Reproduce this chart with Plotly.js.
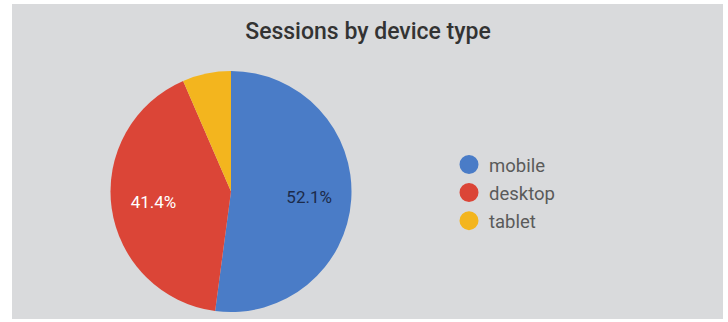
<!DOCTYPE html>
<html>
<head>
<meta charset="utf-8">
<script src="https://cdn.plot.ly/plotly-3.0.1.min.js"></script>
<style>html,body{margin:0;padding:0;background:#fff;}#chart{width:728px;height:322px;}</style>
</head>
<body>
<div id="chart"></div>
<script>
const titleText = "Sessions by device type";
const categories = ["mobile", "desktop", "tablet"];
const sessionShares = [52.1, 41.4, 6.5];
const sliceColors = ["#4a7cc7", "#db4537", "#f3b51e"];
const labelColors = ["#1c2b4a", "#ffffff", "#ffffff"];
const labelPositions = ["inside", "inside", "none"];

const W = 728, H = 322;
const px = v => v / W;
const py = v => 1 - v / H;
const pieDomain = { x: [px(110), px(352)], y: [py(312), py(71)] };

// base pie: the slices
const pie = {
  type: "pie",
  labels: categories,
  values: sessionShares,
  sort: false,
  direction: "clockwise",
  rotation: 0,
  marker: { colors: sliceColors, line: { width: 0 } },
  textinfo: "none",
  showlegend: false,
  hoverinfo: "label+percent",
  domain: pieDomain
};

// transparent ring on top: carries the percent labels further out
const labelRing = {
  type: "pie",
  labels: categories,
  values: sessionShares,
  sort: false,
  direction: "clockwise",
  rotation: 0,
  hole: 0.3,
  marker: { colors: ["rgba(0,0,0,0)", "rgba(0,0,0,0)", "rgba(0,0,0,0)"], line: { width: 0 } },
  textinfo: "percent",
  textposition: labelPositions,
  insidetextfont: { family: "Roboto, sans-serif", size: 17, color: labelColors },
  insidetextorientation: "horizontal",
  showlegend: false,
  hoverinfo: "skip",
  domain: pieDomain
};

const legendTraces = categories.map((c, i) => ({
  type: "scatter",
  mode: "markers",
  x: [null], y: [null],
  name: c,
  legendgroup: c,
  marker: { symbol: "circle", size: 16, color: sliceColors[i], line: { color: sliceColors[i], width: 3 } },
  hoverinfo: "skip"
}));

const layout = {
  width: W, height: H,
  margin: { l: 0, r: 0, t: 0, b: 0 },
  paper_bgcolor: "#ffffff",
  plot_bgcolor: "rgba(0,0,0,0)",
  shapes: [{
    type: "rect", xref: "paper", yref: "paper", layer: "below",
    x0: px(12), x1: px(723), y0: py(319), y1: py(4),
    fillcolor: "#d9dadc", line: { width: 0 }
  }],
  title: {
    text: titleText,
    font: { family: "Roboto, sans-serif", size: 23, color: "#333333", weight: 500 },
    x: px(368), xanchor: "center", y: py(31), yanchor: "middle"
  },
  xaxis: { visible: false, domain: [0.9, 1] },
  yaxis: { visible: false, domain: [0.9, 1] },
  showlegend: true,
  legend: {
    x: px(449), y: py(146), xanchor: "left", yanchor: "top",
    bgcolor: "rgba(0,0,0,0)",
    font: { family: "Roboto, sans-serif", size: 18.5, color: "#5a5a5a" },
    traceorder: "grouped",
    tracegroupgap: 1,
    itemsizing: "trace"
  }
};

Plotly.newPlot("chart", [pie, labelRing].concat(legendTraces), layout, { displayModeBar: false, staticPlot: true });
</script>
</body>
</html>
